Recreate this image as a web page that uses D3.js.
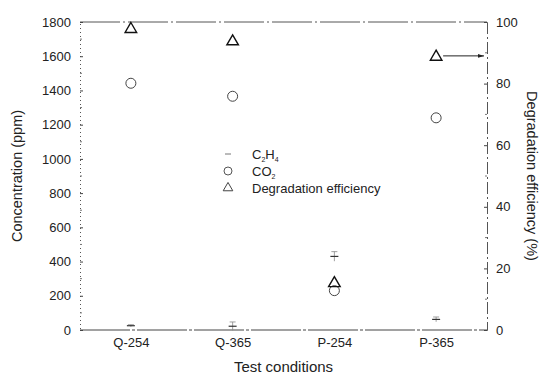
<!DOCTYPE html>
<html><head><meta charset="utf-8">
<script src="https://cdn.jsdelivr.net/npm/d3@7"></script>
<style>body{margin:0;background:#fff}svg{display:block}text{font-family:"Liberation Sans",Arial,sans-serif;fill:#222}</style>
</head><body>
<svg id="c" width="540" height="379"></svg>
<script>
const categories = ["Q-254","Q-365","P-254","P-365"];
const c2h4 = [25, 22, 430, 62];
const c2h4Err = [6, 25, 28, 14];
const co2 = [1442, 1366, 230, 1240];
const efficiency = [98, 94, 15.5, 89];
const leftTicks = [0,200,400,600,800,1000,1200,1400,1600,1800];
const rightTicks = [0,20,40,60,80,100];

const svg = d3.select("#c");
const L=80, R=487, T=22, B=330;
const x = d3.scalePoint().domain(categories).range([L,R]).padding(0.5);
const yL = d3.scaleLinear().domain([0,1800]).range([B,T]);
const yR = d3.scaleLinear().domain([0,100]).range([B,T]);
const ink="#333";

// frame
svg.append("line").attr("x1",L).attr("x2",R).attr("y1",T).attr("y2",T).attr("stroke","#555").attr("stroke-width",1).attr("stroke-dasharray","40,3,2,3");
svg.append("line").attr("x1",L).attr("x2",R).attr("y1",B).attr("y2",B).attr("stroke","#444").attr("stroke-width",1).attr("stroke-dasharray","50,2,3,2");

// left axis
const la = svg.append("g").attr("transform",`translate(${L},0)`)
  .call(d3.axisLeft(yL).tickValues(leftTicks).tickSize(-3).tickPadding(9).tickFormat(d3.format("d")));
la.select(".domain").attr("stroke","#555").attr("stroke-dasharray","1,3");
la.selectAll(".tick line").attr("stroke","#444");
la.selectAll("text").style("font-size","13px").attr("fill","#222");
svg.append("g").selectAll("line").data(d3.range(100,1800,200)).join("line")
  .attr("x1",L).attr("x2",L+2).attr("y1",d=>yL(d)).attr("y2",d=>yL(d)).attr("stroke","#777");

// right axis
const ra = svg.append("g").attr("transform",`translate(${R},0)`)
  .call(d3.axisRight(yR).tickValues(rightTicks).tickSize(-3).tickPadding(9).tickFormat(d3.format("d")));
ra.select(".domain").attr("stroke","#555").attr("stroke-dasharray","12,3,2,3");
ra.selectAll(".tick line").attr("stroke","#444");
ra.selectAll("text").style("font-size","13px").attr("fill","#222");
svg.append("g").selectAll("line").data(d3.range(10,100,20)).join("line")
  .attr("x1",R-2).attr("x2",R).attr("y1",d=>yR(d)).attr("y2",d=>yR(d)).attr("stroke","#777");

// x axis labels
const xa = svg.append("g").attr("transform",`translate(0,${B})`)
  .call(d3.axisBottom(x).tickSize(0).tickPadding(8));
xa.select(".domain").remove();
xa.selectAll("text").style("font-size","13px").attr("fill","#222");

// titles
svg.append("text").attr("transform",`translate(22,${(T+B)/2}) rotate(-90)`).attr("text-anchor","middle").style("font-size","14.5px").text("Concentration (ppm)");
svg.append("text").attr("transform",`translate(527,${(T+B)/2}) rotate(90)`).attr("text-anchor","middle").style("font-size","14.5px").text("Degradation efficiency (%)");
svg.append("text").attr("x",(L+R)/2).attr("y",372).attr("text-anchor","middle").style("font-size","15px").text("Test conditions");

// C2H4 error bars + dash markers
const g = svg.append("g");
categories.forEach((c,i)=>{
  const cx=x(c), y0=yL(c2h4[i]);
  g.append("line").attr("x1",cx).attr("x2",cx).attr("y1",yL(c2h4[i]-c2h4Err[i])).attr("y2",yL(c2h4[i]+c2h4Err[i])).attr("stroke","#888").attr("stroke-width",0.8);
  g.append("line").attr("x1",cx-3).attr("x2",cx+3).attr("y1",yL(c2h4[i]+c2h4Err[i])).attr("y2",yL(c2h4[i]+c2h4Err[i])).attr("stroke","#888").attr("stroke-width",0.8);
  g.append("line").attr("x1",cx-4).attr("x2",cx+4).attr("y1",y0).attr("y2",y0).attr("stroke",ink).attr("stroke-width",1.2);
});
// CO2 circles
g.selectAll("circle.co2").data(categories).join("circle").attr("class","co2")
  .attr("cx",d=>x(d)).attr("cy",(d,i)=>yL(co2[i])).attr("r",5)
  .attr("fill","none").attr("stroke","#444").attr("stroke-width",1);
// triangles
const tri = d3.symbol().type(d3.symbolTriangle).size(58);
g.selectAll("path.eff").data(categories).join("path").attr("class","eff")
  .attr("d",tri).attr("transform",(d,i)=>`translate(${x(d)},${yR(efficiency[i])+1})`)
  .attr("fill","none").attr("stroke","#111").attr("stroke-width",1.4);

// arrow from P-365 triangle to right axis
svg.append("defs").append("marker").attr("id","ah").attr("viewBox","0 0 10 10").attr("refX",10).attr("refY",5)
  .attr("markerWidth",6).attr("markerHeight",6).attr("orient","auto")
  .append("path").attr("d","M0,2L10,5L0,8Z").attr("fill","#222");
const ai=3;
svg.append("line").attr("x1",x(categories[ai])+7).attr("x2",R-3).attr("y1",yR(efficiency[ai])).attr("y2",yR(efficiency[ai]))
  .attr("stroke","#222").attr("stroke-width",1).attr("marker-end","url(#ah)");

// legend
const lg = svg.append("g").attr("transform","translate(228,0)");
lg.append("line").attr("x1",-3).attr("x2",3).attr("y1",154).attr("y2",154).attr("stroke","#777");
lg.append("circle").attr("cx",0).attr("cy",171).attr("r",4).attr("fill","none").attr("stroke","#555");
lg.append("path").attr("d",d3.symbol().type(d3.symbolTriangle).size(40)).attr("transform","translate(0,188)").attr("fill","none").attr("stroke","#444");
const t1=lg.append("text").attr("x",24).attr("y",159).style("font-size","13px");
t1.append("tspan").text("C");t1.append("tspan").attr("dy",3).style("font-size","7px").text("2");
t1.append("tspan").attr("dy",-3).text("H");t1.append("tspan").attr("dy",3).style("font-size","7px").text("4");
const t2=lg.append("text").attr("x",24).attr("y",176).style("font-size","13px");
t2.append("tspan").text("CO");t2.append("tspan").attr("dy",3).style("font-size","7px").text("2");
lg.append("text").attr("x",24).attr("y",193).style("font-size","13px").text("Degradation efficiency");
</script>
</body></html>
